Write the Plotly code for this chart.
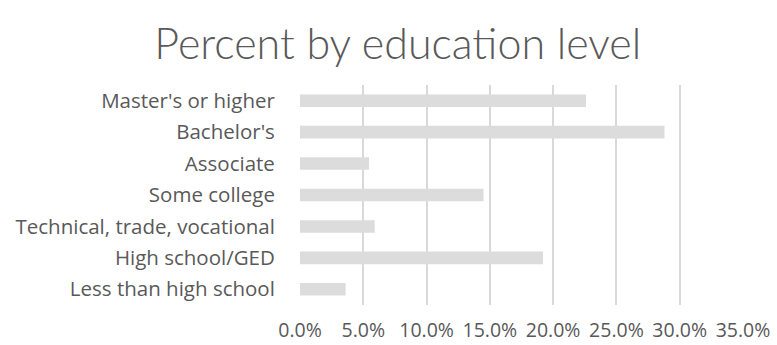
import plotly.graph_objects as go

categories = ["Less than high school", "High school/GED", "Technical, trade, vocational",
              "Some college", "Associate", "Bachelor's", "Master's or higher"]
values = [3.6, 19.2, 5.9, 14.5, 5.45, 28.8, 22.6]
tick_vals = [0, 5, 10, 15, 20, 25, 30, 35]
tick_text = ["0.0%", "5.0%", "10.0%", "15.0%", "20.0%", "25.0%", "30.0%", "35.0%"]

fig = go.Figure(go.Bar(
    x=values, y=categories, orientation="h",
    marker=dict(color="#dcdcdc", line=dict(width=0)),
))

fig.update_layout(
    width=777, height=345,
    margin=dict(l=300, r=34, t=85, b=40, autoexpand=False),
    paper_bgcolor="white", plot_bgcolor="white",
    bargap=0.6,
    showlegend=False,
    title=dict(text="Percent by education level", x=0.512, xref="container",
               y=0.872, yref="container", xanchor="center", yanchor="middle",
               font=dict(family="Lato", size=43, color="#595959", weight=300)),
    font=dict(family="Open Sans", size=20, color="#595959"),
)
fig.update_xaxes(range=[0, 35], tickvals=tick_vals, ticktext=tick_text,
                 showgrid=True, gridcolor="#d9d9d9", gridwidth=1.5,
                 zeroline=False, showline=False, automargin=False,
                 ticks="outside", ticklen=8, tickcolor="rgba(0,0,0,0)",
                 tickfont=dict(family="Open Sans", size=19.5, color="#595959"))
fig.update_yaxes(showgrid=False, zeroline=False, showline=False, automargin=False,
                 ticks="outside", ticklen=20, tickcolor="rgba(0,0,0,0)",
                 tickfont=dict(family="Open Sans", size=20.5, color="#595959"))
fig.write_html("out.html")
